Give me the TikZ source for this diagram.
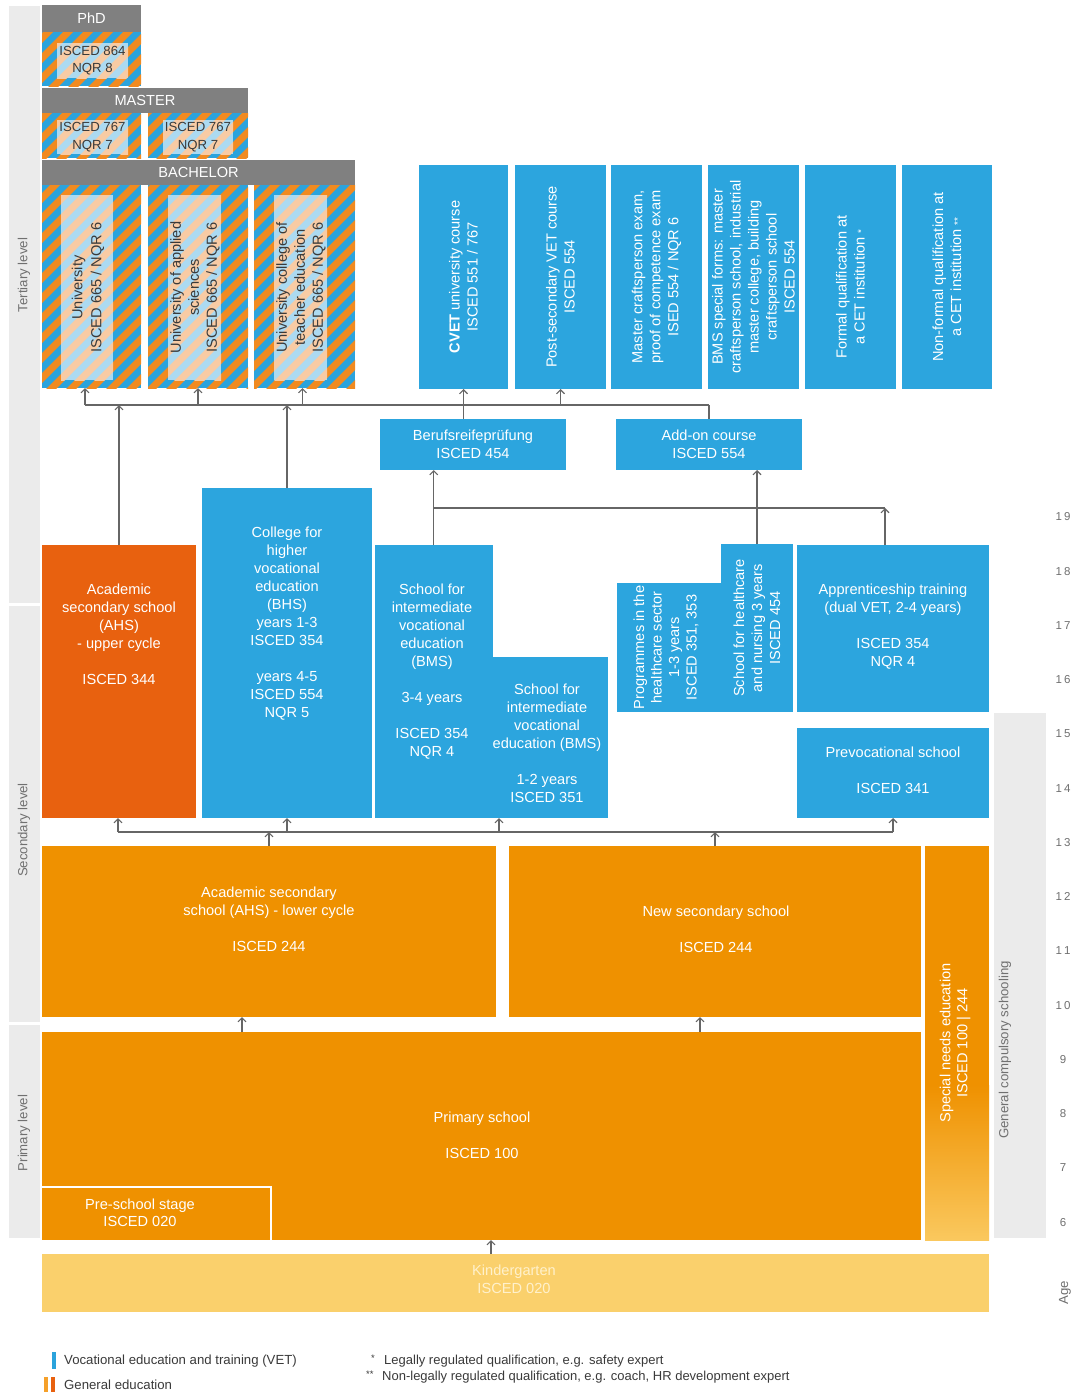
\documentclass[tikz,border=0pt]{standalone}
\usepackage{fontspec}
\setmainfont{Liberation Sans}
\usetikzlibrary{arrows.meta}

\definecolor{vetblue}{HTML}{2CA5DE}
\definecolor{genorange}{HTML}{EF9100}
\definecolor{ahsorange}{HTML}{E8610F}
\definecolor{kgyellow}{HTML}{FAD06C}
\definecolor{kgtext}{HTML}{FFF1CC}
\definecolor{strorange}{HTML}{F18A20}
\definecolor{strblue}{HTML}{2BA3DC}
\definecolor{litorange}{HTML}{F8CBA4}
\definecolor{litblue}{HTML}{ACDAF1}
\definecolor{hdrgray}{HTML}{808080}
\definecolor{sidegray}{HTML}{EBEBEB}
\definecolor{linegray}{HTML}{666666}
\definecolor{labgray}{HTML}{707070}
\definecolor{darktxt}{HTML}{3A3A3A}
\definecolor{spbottom}{HTML}{FAC85E}
\definecolor{legorange}{HTML}{F5A02A}

\newcommand\stripefill[6]{%
  \begin{scope}
    \clip (#1,#2) rectangle (#3,#4);
    \fill[#6] (#1,#2) rectangle (#3,#4);
    \pgfmathsetmacro\stS{int(floor((#1+#2)/20)*20-20)}
    \pgfmathsetmacro\stN{int(\stS+20)}
    \pgfmathsetmacro\stE{int(#3+#4+20)}
    \foreach \c in {\stS,\stN,...,\stE}
      \draw[#5, line width=7.07pt] (\c-#4-5,#4+5) -- (\c-#2+5,#2-5);
  \end{scope}}

\tikzset{
  box/.style={inner sep=0pt, outer sep=0pt, anchor=north west, draw=none},
  wtxt/.style={text=white, align=center, inner sep=0pt, font=\fontsize{14.6}{18}\selectfont},
  dtxt/.style={text=darktxt, align=center, inner sep=0pt, font=\fontsize{13.2}{17.5}\selectfont},
  hdr/.style={box, fill=hdrgray, text=white, font=\fontsize{14.6}{16}\selectfont},
  side/.style={text=labgray, font=\fontsize{13.2}{15}\selectfont, rotate=90, inner sep=0pt},
  agelab/.style={text=labgray, font=\fontsize{11.5}{13}\selectfont, inner sep=0pt},
  legtxt/.style={text=darktxt, font=\fontsize{13.2}{15}\selectfont, inner sep=0pt, anchor=west},
  conn/.style={draw=linegray, line width=1.1pt},
  arr/.style={conn, -{Straight Barb[length=4pt,width=8pt]}},
}

\begin{document}
\begin{tikzpicture}[x=1pt,y=-1pt]
\useasboundingbox[fill=white] (0,0) rectangle (1073,1392);

% side bars
\node[box, fill=sidegray, minimum width=31pt, minimum height=597pt] (sbt) at (9,6) {};
\node[box, fill=sidegray, minimum width=31pt, minimum height=416pt] (sbs) at (9,606) {};
\node[box, fill=sidegray, minimum width=31pt, minimum height=213pt] (sbp) at (9,1025) {};
\node[side] (labt) at (24,275) {Tertiary level};
\node[side] (labs) at (24,830) {Secondary level};
\node[side] (labp) at (24,1133) {Primary level};
\node[box, fill=sidegray, minimum width=52pt, minimum height=525pt] (sbc) at (994,713) {};
\node[side] (labc) at (1005,1050) {General compulsory schooling};

% ages
\foreach \a/\t in {19/{1\hspace{2pt}9},18/{1\hspace{2pt}8},17/{1\hspace{2pt}7},16/{1\hspace{2pt}6},15/{1\hspace{2pt}5},14/{1\hspace{2pt}4},13/{1\hspace{2pt}3},12/{1\hspace{2pt}2},11/{1\hspace{2pt}1},10/{1\hspace{2pt}0},9/9,8/8,7/7,6/6}
  \node[agelab] (age\a) at (1063,{517+(19-\a)*54.25}) {\t};
\node[side] (agetitle) at (1065,1293) {Age};

% ---------- tertiary: universities ----------
\node[hdr, minimum width=99pt, minimum height=27pt] (phdh) at (42,5) {PhD};
\stripefill{42}{32}{141}{86}{strorange}{strblue}
\stripefill{57}{43}{128}{78}{litorange}{litblue}
\node[box, minimum width=99pt, minimum height=54pt] (phd) at (42,32) {};
\node[dtxt] (phdt) at (92.5,60.5) {ISCED 864\\NQR 8};

\node[hdr, minimum width=206pt, minimum height=25pt] (masth) at (42,88) {MASTER};
\stripefill{42}{113}{141}{158}{strorange}{strblue}
\stripefill{148}{113}{248}{158}{strorange}{strblue}
\stripefill{57}{120}{128}{154}{litorange}{litblue}
\stripefill{163}{120}{233}{154}{litorange}{litblue}
\node[box, minimum width=99pt, minimum height=45pt] (mast1) at (42,113) {};
\node[box, minimum width=100pt, minimum height=45pt] (mast2) at (148,113) {};
\node[dtxt] (mast1t) at (92.5,137) {ISCED 767\\NQR 7};
\node[dtxt] (mast2t) at (198,137) {ISCED 767\\NQR 7};

\node[hdr, minimum width=313pt, minimum height=25pt] (bachh) at (42,160) {BACHELOR};
\stripefill{42}{185}{141}{388}{strorange}{strblue}
\stripefill{148}{185}{248}{388}{strorange}{strblue}
\stripefill{254}{185}{355}{388}{strorange}{strblue}
\stripefill{61}{195}{113}{380}{litorange}{litblue}
\stripefill{168}{195}{221}{380}{litorange}{litblue}
\stripefill{274}{195}{327}{380}{litorange}{litblue}
\node[box, minimum width=99pt, minimum height=203pt] (uni) at (42,185) {};
\node[box, minimum width=100pt, minimum height=203pt] (uas) at (148,185) {};
\node[box, minimum width=101pt, minimum height=203pt] (ucte) at (254,185) {};
\node[dtxt, rotate=90, font=\fontsize{14.6}{19}\selectfont] (unit) at (88,287.5) {University\\ISCED 665 / NQR 6};
\node[dtxt, rotate=90, font=\fontsize{14.6}{18}\selectfont] (uast) at (195,287.5) {University of applied\\sciences\\ISCED 665 / NQR 6};
\node[dtxt, rotate=90, font=\fontsize{14.6}{18}\selectfont] (uctet) at (301,287.5) {University college of\\teacher education\\ISCED 665 / NQR 6};

% ---------- tertiary: VET ----------
\node[box, fill=vetblue, minimum width=89pt, minimum height=224pt] (cvet) at (419,165) {};
\node[box, fill=vetblue, minimum width=91pt, minimum height=224pt] (postsec) at (515,165) {};
\node[box, fill=vetblue, minimum width=91pt, minimum height=224pt] (mcraft) at (611,165) {};
\node[box, fill=vetblue, minimum width=91pt, minimum height=224pt] (bmssp) at (708,165) {};
\node[box, fill=vetblue, minimum width=91pt, minimum height=224pt] (formal) at (805,165) {};
\node[box, fill=vetblue, minimum width=90pt, minimum height=224pt] (nonformal) at (902,165) {};
\node[wtxt, rotate=90] (cvett) at (cvet.center) {\textbf{CVET} university course\\ISCED 551 / 767};
\node[wtxt, rotate=90] (postsect) at (postsec.center) {Post-secondary VET course\\ISCED 554};
\node[wtxt, rotate=90] (mcraftt) at (mcraft.center) {Master craftsperson exam,\\proof of competence exam\\ISED 554 / NQR 6};
\node[wtxt, rotate=90] (bmsspt) at (bmssp.center) {BMS special forms: master\\craftsperson school, industrial\\master college, building\\craftsperson school\\ISCED 554};
\node[wtxt, rotate=90] (formalt) at ([yshift=-10pt]formal.center) {Formal qualification at\\a CET institution {\fontsize{10}{10}\selectfont *}};
\node[wtxt, rotate=90] (nonformalt) at (nonformal.center) {Non-formal qualification at\\a CET institution {\fontsize{10}{10}\selectfont **}};

\node[box, fill=vetblue, minimum width=186pt, minimum height=51pt, text=white, align=center, font=\fontsize{14.6}{18}\selectfont] (berufs) at (380,419) {Berufsreifeprüfung\\ISCED 454};
\node[box, fill=vetblue, minimum width=186pt, minimum height=51pt, text=white, align=center, font=\fontsize{14.6}{18}\selectfont] (addon) at (616,419) {Add-on course\\ISCED 554};

% ---------- upper secondary ----------
\node[box, fill=ahsorange, minimum width=154pt, minimum height=273pt] (ahsu) at (42,545) {};
\node[wtxt, anchor=north] (ahsut) at (119,584) {Academic\\secondary school\\(AHS)\\- upper cycle\\[18pt]ISCED 344};
\node[box, fill=vetblue, minimum width=170pt, minimum height=330pt] (bhs) at (202,488) {};
\node[wtxt, anchor=north] (bhst) at (287,527) {College for\\higher\\vocational\\education\\(BHS)\\years 1-3\\ISCED 354\\[18pt]years 4-5\\ISCED 554\\NQR 5};
\node[box, fill=vetblue, minimum width=117.5pt, minimum height=273pt] (bmsa) at (375,545) {};
\node[box, fill=vetblue, minimum width=116pt, minimum height=161pt] (bmsb) at (492,657) {};
\node[wtxt, anchor=north] (bmsat) at (432,584) {School for\\intermediate\\vocational\\education\\(BMS)\\[18pt]3-4 years\\[18pt]ISCED 354\\NQR 4};
\node[wtxt, anchor=north] (bmsbt) at (547,684) {School for\\intermediate\\vocational\\education (BMS)\\[18pt]1-2 years\\ISCED 351};
\node[box, fill=vetblue, minimum width=104.5pt, minimum height=129pt] (hprog) at (617,583) {};
\node[box, fill=vetblue, minimum width=72pt, minimum height=168pt] (hcs) at (721,544) {};
\node[wtxt, rotate=90, font=\fontsize{14.6}{17.5}\selectfont] (hprogt) at (666,647.5) {Programmes in the\\healthcare sector\\1-3 years\\ISCED 351, 353};
\node[wtxt, rotate=90] (hcst) at (757,628) {School for healthcare\\and nursing 3 years\\ISCED 454};
\node[box, fill=vetblue, minimum width=192pt, minimum height=167pt] (appr) at (797,545) {};
\node[wtxt, anchor=north] (apprt) at (893,584) {Apprenticeship training\\(dual VET, 2-4 years)\\[18pt]ISCED 354\\NQR 4};
\node[box, fill=vetblue, minimum width=192pt, minimum height=90pt] (prevoc) at (797,728) {};
\node[wtxt, anchor=north] (prevoct) at (893,747) {Prevocational school\\[18pt]ISCED 341};

% ---------- lower secondary / primary ----------
\node[box, fill=genorange, minimum width=454pt, minimum height=171pt] (ahsl) at (42,846) {};
\node[wtxt, anchor=north] (ahslt) at (269,887) {Academic secondary\\school (AHS) - lower cycle\\[18pt]ISCED 244};
\node[box, fill=genorange, minimum width=412pt, minimum height=171pt] (nss) at (509,846) {};
\node[wtxt, anchor=north] (nsst) at (716,906) {New secondary school\\[18pt]ISCED 244};
\node[box, fill=genorange, minimum width=64pt, minimum height=394pt] (spec) at (925,846) {};
\shade[top color=genorange, bottom color=spbottom] (925,1085) rectangle (989,1240);
\node[wtxt, rotate=90, font=\fontsize{14.6}{17}\selectfont] (spect) at (955,1043) {Special needs education\\ISCED 100 | 244};
\node[box, fill=genorange, minimum width=879pt, minimum height=208pt] (prim) at (42,1032) {};
\node[wtxt, anchor=north] (primt) at (482,1112) {Primary school\\[18pt]ISCED 100};
\node[box, fill=genorange, minimum width=229pt, minimum height=53pt] (pre) at (42,1187) {};
\draw[white, line width=1.5pt] (pre.north west) -- (pre.north east) -- (pre.south east);
\node[wtxt, anchor=north, font=\fontsize{14.6}{17}\selectfont] (pret) at (140,1199) {Pre-school stage\\ISCED 020};
\node[box, fill=kgyellow, minimum width=947pt, minimum height=58pt] (kg) at (42,1254) {};
\node[wtxt, anchor=north, text=kgtext] (kgt) at (514,1265) {Kindergarten\\ISCED 020};

% ---------- connectors: tertiary line ----------
\coordinate (tlw) at (85,405);
\coordinate (tle) at (addon.north |- tlw);
\draw[conn] (tlw) -- (tle);
\draw[arr] (tlw) -- (uni.south -| tlw);
\draw[arr] (uas.south |- tlw) -- (uas.south);
\draw[arr] ([xshift=-2pt]ucte.south |- tlw) -- ([xshift=-2pt]ucte.south);
\draw[arr] (cvet.south |- tlw) -- (cvet.south);
\draw[arr] (postsec.south |- tlw) -- (postsec.south);
\draw[arr] (ahsu.north) -- (ahsu.north |- tlw);
\draw[arr] (bhs.north) -- (bhs.north |- tlw);
\draw[conn] (berufs.north -| cvet.south) -- (cvet.south |- tlw);
\draw[conn] (addon.north) -- (tle);

% ---------- connectors: middle ----------
\coordinate (mlw) at (433.5,508);
\coordinate (mle) at (885,508);
\draw[conn] (mlw) -- (mle);
\draw[arr] (bmsa.north) -- (berufs.south -| bmsa.north);
\draw[arr] (appr.north -| mle) -- (mle);
\draw[arr] (hcs.north) -- (addon.south -| hcs.north);

% ---------- connectors: lower line ----------
\coordinate (llw) at (118,832);
\coordinate (lle) at (893,832);
\coordinate (llb) at (499,832);
\draw[conn] (llw) -- (lle);
\draw[arr] (llw) -- (ahsu.south -| llw);
\draw[arr] (bhs.south |- llw) -- (bhs.south);
\draw[arr] (llb) -- (bmsb.south -| llb);
\draw[arr] (lle) -- (prevoc.south -| lle);
\draw[arr] (ahsl.north) -- (ahsl.north |- llw);
\draw[arr] (nss.north) -- (nss.north |- llw);

% ---------- connectors: primary ----------
\coordinate (pa) at (242,1032);
\coordinate (pb) at (700,1032);
\coordinate (ka) at (491,1254);
\draw[arr] (pa) -- (ahsl.south -| pa);
\draw[arr] (pb) -- (nss.south -| pb);
\draw[arr] (ka) -- (prim.south -| ka);

% ---------- legend ----------
\node[box, fill=strblue, minimum width=4pt, minimum height=17pt] (legb) at (52,1352) {};
\node[legtxt] (legbt) at (64,1361) {Vocational education and training (VET)};
\node[box, fill=legorange, minimum width=4pt, minimum height=15pt] (lego1) at (44,1377) {};
\node[box, fill=ahsorange, minimum width=4pt, minimum height=15pt] (lego2) at (51,1377) {};
\node[legtxt] (legot) at (64,1385) {General education};
\node[legtxt, font=\fontsize{9.5}{9.5}\selectfont] (fn1s) at (371,1358) {*};
\node[legtxt, font=\fontsize{13}{15}\selectfont] (fn1) at (384,1361) {Legally regulated qualification, e.g. safety expert};
\node[legtxt, font=\fontsize{9.5}{9.5}\selectfont] (fn2s) at (366,1374) {**};
\node[legtxt, font=\fontsize{13}{15}\selectfont] (fn2) at (382,1377) {Non-legally regulated qualification, e.g. coach, HR development expert};
\end{tikzpicture}
\end{document}
